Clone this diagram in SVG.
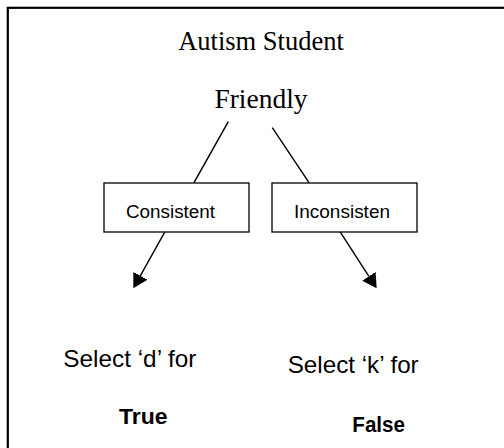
<svg xmlns="http://www.w3.org/2000/svg" width="504" height="448" viewBox="0 0 504 448">
  <style>
    .serif { font-family: "Liberation Serif", "Times New Roman", serif; fill: #000; }
    .sans { font-family: "Liberation Sans", Arial, sans-serif; fill: #000; }
    .bold { font-weight: bold; }
    .box { fill: #fff; stroke: #000; stroke-width: 1.3; }
    .conn { stroke: #000; stroke-width: 1.4; fill: none; }
  </style>
  <defs>
    <marker id="arrow" viewBox="0 0 15 16" refX="0" refY="8" markerWidth="15" markerHeight="16" markerUnits="userSpaceOnUse" orient="auto">
      <path d="M0,0 L14.3,8 L0,16 z" fill="#000"/>
    </marker>
  </defs>
  <rect x="7.8" y="7.8" width="520" height="460" fill="#fff" stroke="#000" stroke-width="2.2"/>

  <g id="title">
    <text class="serif" x="261" y="50" font-size="26.5" text-anchor="middle">Autism Student</text>
  </g>
  <g id="friendly">
    <text class="serif" x="261" y="108.3" font-size="27.5" text-anchor="middle">Friendly</text>
  </g>

  <g id="connectors">
    <line class="conn" x1="228.3" y1="121.7" x2="194" y2="182.7"/>
    <line class="conn" x1="272.3" y1="127.7" x2="309" y2="182.7"/>
    <line class="conn" x1="165" y1="231.7" x2="140.3" y2="275.8" marker-end="url(#arrow)"/>
    <line class="conn" x1="340" y1="231.7" x2="368.9" y2="276.3" marker-end="url(#arrow)"/>
  </g>

  <g id="consistent">
    <rect class="box" x="104" y="183" width="145" height="49"/>
    <text class="sans" x="126" y="217.5" font-size="17.5" textLength="89" lengthAdjust="spacingAndGlyphs">Consistent</text>
  </g>
  <g id="inconsistent">
    <rect class="box" x="272" y="183" width="145" height="49"/>
    <text class="sans" x="294" y="217.5" font-size="17.5" textLength="96" lengthAdjust="spacingAndGlyphs">Inconsisten</text>
  </g>

  <g id="select-d">
    <text class="sans" x="63.3" y="366.7" font-size="23.4" textLength="133" lengthAdjust="spacingAndGlyphs">Select ‘d’ for</text>
  </g>
  <g id="select-k">
    <text class="sans" x="287.7" y="373.3" font-size="23.4" textLength="131" lengthAdjust="spacingAndGlyphs">Select ‘k’ for</text>
  </g>
  <g id="true">
    <text class="sans bold" x="119" y="424.3" font-size="21.5" textLength="48.7" lengthAdjust="spacingAndGlyphs">True</text>
  </g>
  <g id="false">
    <text class="sans bold" x="352.3" y="431.7" font-size="22" textLength="52.7" lengthAdjust="spacingAndGlyphs">False</text>
  </g>
</svg>
